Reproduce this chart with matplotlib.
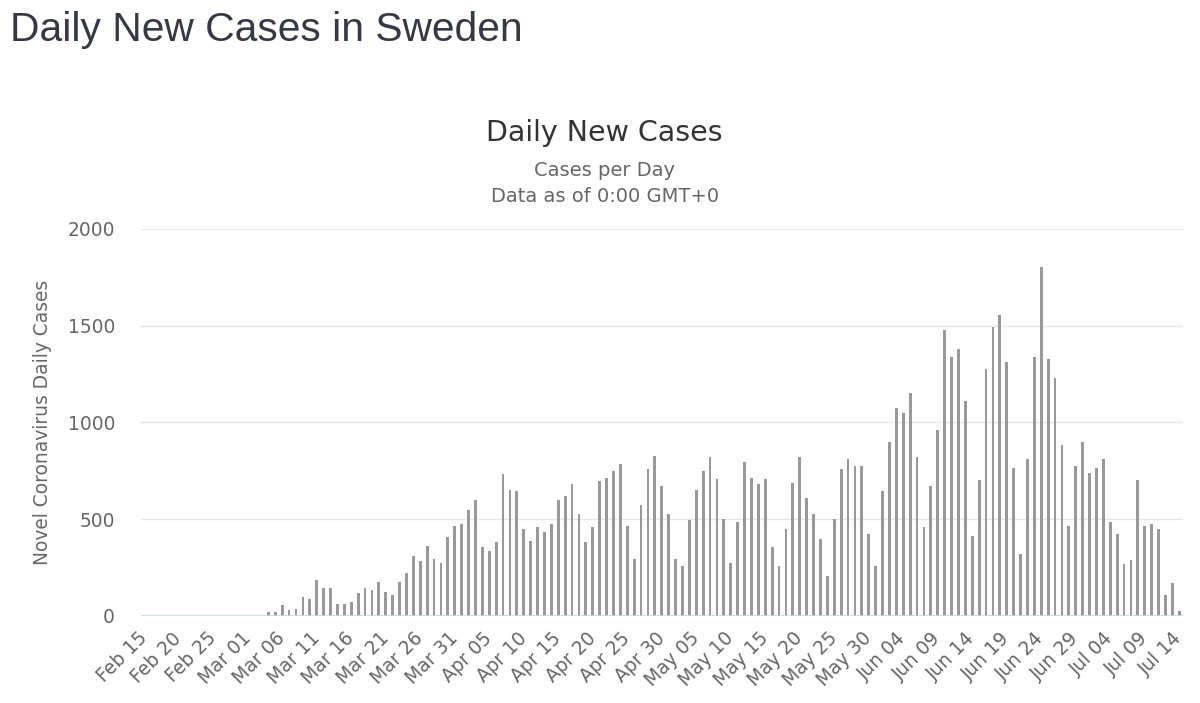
import matplotlib
matplotlib.use("Agg")
import matplotlib.pyplot as plt
import pandas as pd

dates = pd.date_range("2020-02-15", "2020-07-14", freq="D")
categories = [d.strftime("%b %d") for d in dates]

new_cases = [0] * 18 + [
    19, 19, 57, 29, 38, 100, 90, 187, 144, 144,
    64, 64, 74, 118, 144, 135, 178, 126, 109, 178,
    221, 310, 284, 362, 292, 275, 407, 467, 476, 547,
    600, 355, 337, 381, 732, 652, 644, 452, 389, 458,
    433, 476, 600, 618, 680, 529, 381, 458, 697, 715,
    749, 785, 467, 292, 573, 758, 829, 670, 529, 292,
    258, 495, 652, 749, 820, 706, 503, 275, 486, 794,
    715, 680, 706, 355, 258, 452, 689, 820, 609, 529,
    398, 204, 503, 758, 811, 775, 775, 424, 258, 644,
    898, 1074, 1048, 1152, 820, 458, 670, 960, 1478, 1337,
    1381, 1111, 415, 704, 1277, 1495, 1557, 1311, 766, 318,
    810, 1337, 1804, 1329, 1232, 881, 467, 775, 898, 740,
    766, 810, 484, 424, 266, 291, 704, 467, 476, 450,
    107, 170, 28,
]

y_ticks = [0, 500, 1000, 1500, 2000]
tick_every = 5

fig = plt.figure(figsize=(12, 7.03), dpi=100)
ax = fig.add_axes([0.1173, 0.1238, 0.9856 - 0.1173, 0.6743 - 0.1238])

x = list(range(len(categories)))
ax.bar(x, new_cases, width=0.4, color="#999999", zorder=3)

ax.set_xlim(-0.5, len(categories) - 0.5)
ax.set_ylim(0, 2000)
ax.set_yticks(y_ticks)
ax.set_yticklabels([str(v) for v in y_ticks])
ax.yaxis.grid(True, color="#e6e6e6", linewidth=1, zorder=0)
ax.axhline(0, color="#ccd6eb", linewidth=1.2, zorder=4)

tick_pos = x[::tick_every]
ax.set_xticks(tick_pos)
ax.set_xticklabels([categories[i] for i in tick_pos], rotation=45,
                   ha="right", va="center", rotation_mode="anchor")

for s in ax.spines.values():
    s.set_visible(False)
ax.tick_params(axis="both", length=0, colors="#666666", labelsize=13.4)
ax.tick_params(axis="y", pad=18.5)
ax.tick_params(axis="x", pad=14)

ax.set_ylabel("Novel Coronavirus Daily Cases", color="#666666", fontsize=13.4, labelpad=11)

fig.text(0.008, 0.957, "Daily New Cases in Sweden", fontsize=29.3, color="#363945",
         family="Liberation Sans", ha="left", va="center")
fig.text(0.504, 0.811, "Daily New Cases", fontsize=20.5, color="#333333",
         ha="center", va="center")
fig.text(0.504, 0.758, "Cases per Day", fontsize=14, color="#666666",
         ha="center", va="center")
fig.text(0.504, 0.721, "Data as of 0:00 GMT+0", fontsize=14, color="#666666",
         ha="center", va="center")

fig.savefig("out.png", dpi=100)
